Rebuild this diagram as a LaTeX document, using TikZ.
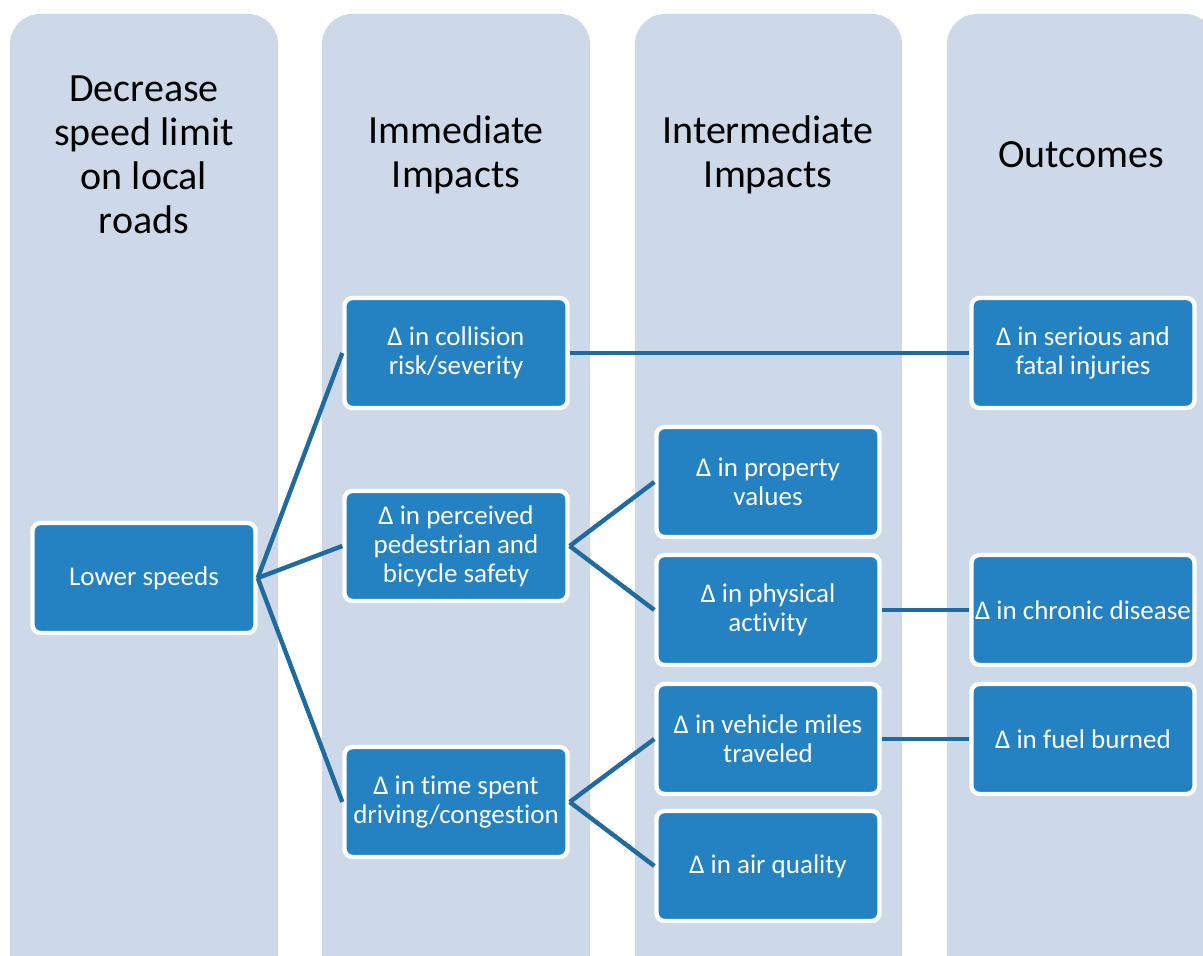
\documentclass[tikz,border=0pt]{standalone}
\usepackage{fontspec}
\setmainfont{Carlito}[Ligatures=NoCommon]
\usetikzlibrary{positioning}

\definecolor{colbg}{HTML}{CDD9E9}
\definecolor{boxblue}{HTML}{2481C2}
\definecolor{linkblue}{HTML}{1F6A9F}

\tikzset{
  column/.style={fill=colbg,rounded corners=15pt},
  coltitle/.style={font=\fontsize{20}{22}\selectfont,align=center,text=black},
  impact/.style={draw=white,line width=2.2pt,fill=boxblue,rounded corners=4pt,
    text=white,align=center,minimum width=111.5pt,minimum height=55pt,
    inner sep=0pt,font=\fontsize{13.5}{14.5}\selectfont},
  link/.style={draw=linkblue,line width=2.2pt}
}

\begin{document}
\begin{tikzpicture}[x=0.5pt,y=-0.5pt]

\useasboundingbox (0,0) rectangle (1203,956);
\clip (0,0) rectangle (1203,956);

% columns
\fill[column] (10,14) rectangle (278,1000);
\fill[column] (322,14) rectangle (590,1000);
\fill[column] (635,14) rectangle (902,1000);
\fill[column] (947,14) rectangle (1215,1000);

\node[coltitle] (t1) at (144,155) {Decrease\\speed limit\\on local\\roads};
\node[coltitle] (t2) at (456,155) {Immediate\\Impacts};
\node[coltitle] (t3) at (768,155) {Intermediate\\Impacts};
\node[coltitle] (t4) at (1081,155) {Outcomes};

% boxes
\node[impact] (lower) at (144,578) {Lower speeds};
\node[impact] (collision) at (456,353) {Δ in collision\\risk/severity};
\node[impact] (perceived) at (456,546) {Δ in perceived\\pedestrian and\\bicycle safety};
\node[impact] (time) at (456,802) {Δ in time spent\\driving/congestion};
\node[impact] (property) at (768,482) {Δ in property\\values};
\node[impact] (physical) at (768,610) {Δ in physical\\activity};
\node[impact] (vehicle) at (768,739) {Δ in vehicle miles\\traveled};
\node[impact] (air) at (768,866) {Δ in air quality};
\node[impact] (serious) at (1083,353) {Δ in serious and\\fatal injuries};
\node[impact] (chronic) at (1083,610) {Δ in chronic disease};
\node[impact] (fuel) at (1083,739) {Δ in fuel burned};

% links
\draw[link] (lower.east) -- (collision.west);
\draw[link] (lower.east) -- (perceived.west);
\draw[link] (lower.east) -- (time.west);
\draw[link] (collision.east) -- (serious.west);
\draw[link] (perceived.east) -- (property.west);
\draw[link] (perceived.east) -- (physical.west);
\draw[link] (physical.east) -- (chronic.west);
\draw[link] (time.east) -- (vehicle.west);
\draw[link] (time.east) -- (air.west);
\draw[link] (vehicle.east) -- (fuel.west);
\end{tikzpicture}
\end{document}
